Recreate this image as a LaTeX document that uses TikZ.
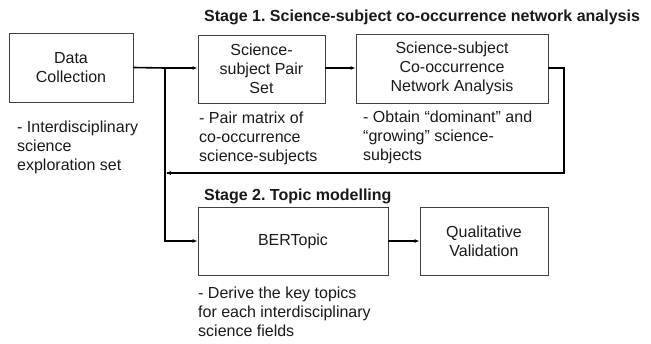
\documentclass[tikz,border=0pt]{standalone}
\usepackage{fontspec}
\setmainfont{Liberation Sans}
\usetikzlibrary{arrows.meta}
\frenchspacing
\begin{document}
\begin{tikzpicture}[x=1pt,y=-1pt,
  every node/.style={font=\fontsize{16}{19}\selectfont, text=black!90},
  box/.style={draw=black!75, line width=0.9pt, inner sep=0pt, align=center},
  note/.style={anchor=north west, inner sep=0pt, align=left},
  title/.style={anchor=west, inner sep=0pt, font=\fontsize{16}{19}\selectfont\bfseries},
  conn/.style={draw=black, line width=1.6pt},
  arr/.style={conn, -{Latex[length=5pt,width=4pt]}}]
\useasboundingbox (0,0) rectangle (651,343);
\node[box, minimum width=124pt, minimum height=69pt] (dc) at (71,67.5) {Data\\Collection};
\node[box, minimum width=127pt, minimum height=68pt] (ps) at (261.5,69) {Science-\\subject Pair\\Set};
\node[box, minimum width=192pt, minimum height=69pt] (na) at (452,68.5) {Science-subject\\Co-occurrence\\Network Analysis};
\node[box, minimum width=190pt, minimum height=68pt] (bt) at (293,241) {BERTopic};
\node[box, minimum width=128pt, minimum height=68pt] (qv) at (484,241) {Qualitative\\Validation};
\node[title] (t1) at (204,17) {Stage 1. Science-subject co-occurrence network analysis};
\node[title] (t2) at (204,196) {Stage 2. Topic modelling};
\node[note] (n1) at (17,121) {- Interdisciplinary\\science\\exploration set};
\node[note] (n2) at (199,112) {- Pair matrix of\\co-occurrence\\science-subjects};
\node[note] (n3) at (363,111) {- Obtain “dominant” and\\“growing” science-\\subjects};
\node[note] (n4) at (198,287) {- Derive the key topics\\for each interdisciplinary\\science fields};
\coordinate (j) at (165,68);
\coordinate (jb) at (165,173);
\coordinate (r1) at (564,68);
\coordinate (r2) at (564,173);
\draw[conn] (dc.east) -- (j);
\draw[arr] (j) -- (ps.west |- j);
\draw[arr] (ps.east |- j) -- (na.west |- j);
\draw[conn] (na.east |- r1) -- (r1) -- (r2) -- ([xshift=2pt]jb);
\draw[arr] (r2) -- ([xshift=0.8pt]jb);
\draw[arr] (j) |- (bt.west);
\draw[arr] (bt.east) -- (qv.west);
\end{tikzpicture}
\end{document}
